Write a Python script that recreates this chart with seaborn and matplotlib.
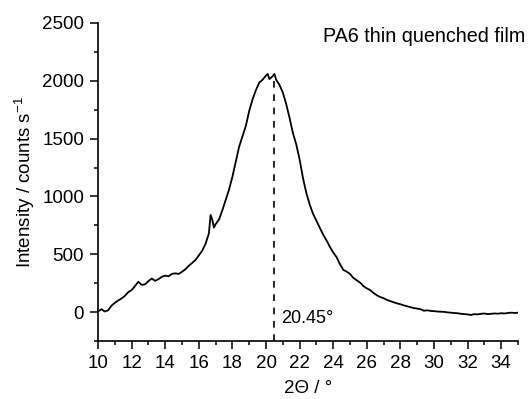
import numpy as np
import pandas as pd
import matplotlib
matplotlib.use("Agg")
import matplotlib.pyplot as plt
import seaborn as sns
from matplotlib.ticker import MultipleLocator

two_theta = [10.0, 10.2, 10.4, 10.6, 10.8, 11.0, 11.2, 11.4, 11.6, 11.8,
             12.0, 12.2, 12.4, 12.6, 12.8, 13.0, 13.2, 13.4, 13.6, 13.8,
             14.0, 14.2, 14.4, 14.6, 14.8, 15.0, 15.2, 15.4, 15.6, 15.8,
             16.0, 16.2, 16.4, 16.6, 16.7, 16.8, 16.9, 17.0, 17.2, 17.4,
             17.6, 17.8, 18.0, 18.2, 18.4, 18.6, 18.8, 19.0, 19.2, 19.4,
             19.6, 19.8, 20.0, 20.1, 20.2, 20.4, 20.5, 20.6, 20.8, 21.0,
             21.2, 21.4, 21.6, 21.8, 22.0, 22.2, 22.4, 22.6, 22.8, 23.0,
             23.2, 23.4, 23.6, 23.8, 24.0, 24.2, 24.4, 24.6, 24.8, 25.0,
             25.2, 25.4, 25.6, 25.8, 26.0, 26.2, 26.4, 26.6, 26.8, 27.0,
             27.2, 27.4, 27.6, 27.8, 28.0, 28.2, 28.4, 28.6, 28.8, 29.0,
             29.2, 29.4, 29.6, 29.8, 30.0, 30.2, 30.4, 30.6, 30.8, 31.0,
             31.2, 31.4, 31.6, 31.8, 32.0, 32.2, 32.4, 32.6, 32.8, 33.0,
             33.2, 33.4, 33.6, 33.8, 34.0, 34.2, 34.4, 34.6, 34.8, 35.0]
intensity = [5, 25, 5, 15, 55, 80, 100, 118, 140, 172,
             190, 225, 262, 235, 240, 268, 290, 270, 285, 305,
             315, 310, 330, 335, 330, 348, 370, 400, 425, 450,
             490, 530, 590, 680, 840, 800, 730, 760, 800, 880,
             970, 1060, 1170, 1300, 1430, 1520, 1610, 1740, 1840, 1920,
             1985, 2010, 2045, 2060, 2015, 2040, 2060, 2010, 1965, 1900,
             1800, 1680, 1550, 1450, 1320, 1160, 1030, 930, 850, 790,
             730, 670, 620, 565, 515, 475, 415, 365, 350, 330,
             295, 275, 255, 225, 205, 190, 165, 145, 130, 120,
             105, 95, 85, 75, 68, 58, 50, 42, 35, 30,
             25, 12, 15, 10, 8, 5, 3, 2, -3, -5,
             -8, -10, -15, -18, -20, -25, -18, -20, -15, -12,
             -18, -15, -12, -14, -10, -12, -8, -5, -8, -5]

peak_pos = 20.45
peak_label = "20.45°"
sample_label = "PA6 thin quenched film"

sns.set_theme(style="ticks")
plt.rcParams['font.family'] = ['Liberation Sans', 'DejaVu Sans']
plt.rcParams['mathtext.fontset'] = 'custom'
plt.rcParams['mathtext.rm'] = 'Liberation Sans'
plt.rcParams['mathtext.it'] = 'Liberation Sans:italic'
for k in ['text.color', 'axes.labelcolor', 'xtick.color', 'ytick.color', 'axes.edgecolor']:
    plt.rcParams[k] = 'black'

df = pd.DataFrame({"x": two_theta, "y": intensity})

fig = plt.figure(figsize=(5.31, 3.99), dpi=100)
ax = fig.add_axes([0.1846, 0.1454, 0.9755 - 0.1846, 0.9424 - 0.1454])
sns.lineplot(data=df, x="x", y="y", ax=ax, color="black", linewidth=1.3)

ax.set_xlim(10, 35)
ax.set_ylim(-250, 2500)
ax.plot([peak_pos, peak_pos], [-250, 2045], ls=(0, (4, 4)), color="black", lw=1.2)
ax.text(20.9, -55, peak_label, fontsize=13, va="center", ha="left")
ax.text(23.4, 2385, sample_label, fontsize=14.2, va="center", ha="left", clip_on=False)

ax.xaxis.set_major_locator(MultipleLocator(2))
ax.xaxis.set_minor_locator(MultipleLocator(1))
ax.yaxis.set_major_locator(MultipleLocator(500))
ax.yaxis.set_minor_locator(MultipleLocator(250))
ax.tick_params(which="major", length=6, width=1.1, labelsize=13.5, pad=4)
ax.tick_params(which="minor", length=3, width=1.1)
for s in ["top", "right"]:
    ax.spines[s].set_visible(False)
for s in ["left", "bottom"]:
    ax.spines[s].set_linewidth(1.2)

ax.set_xlabel("2Θ / °", fontsize=13.5, labelpad=6)
ax.set_ylabel("Intensity / counts s$^{-1}$", fontsize=13.5, labelpad=4)

fig.savefig("out.png", dpi=100)
